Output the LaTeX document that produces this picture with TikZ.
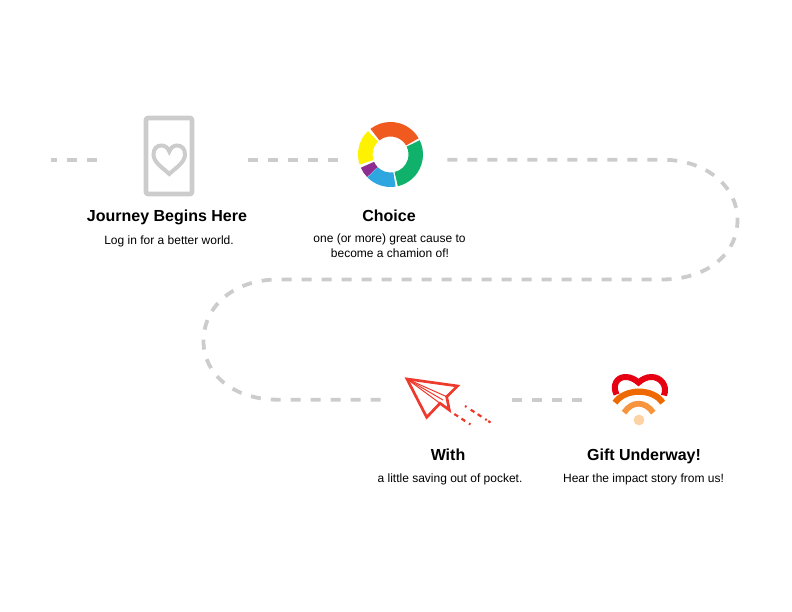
\documentclass[tikz,border=0pt]{standalone}
\usepackage{fontspec}
\setmainfont{Liberation Sans}
\definecolor{pathgray}{HTML}{CCCCCC}
\definecolor{iconorange}{HTML}{F15A1F}
\definecolor{icongreen}{HTML}{10B26B}
\definecolor{iconblue}{HTML}{2EA6E0}
\definecolor{iconpurple}{HTML}{8E2D91}
\definecolor{iconyellow}{HTML}{FFF200}
\definecolor{planered}{HTML}{EE3A2C}
\definecolor{heartred}{HTML}{E60012}
\definecolor{wifiA}{HTML}{EE6A00}
\definecolor{wifiB}{HTML}{F7953F}
\definecolor{wifiC}{HTML}{FDD3A5}
\tikzset{
  x=1pt,y=1pt,
  trail/.style={draw=pathgray,line width=3.8pt,dash pattern=on 10pt off 10pt},
  title/.style={anchor=base,font=\fontsize{16}{18}\selectfont\bfseries,inner sep=0pt},
  sub/.style={anchor=base,font=\fontsize{12}{15}\selectfont,inner sep=0pt,align=center},
  cardline/.style={draw=pathgray,line width=4.6pt},
  plane/.style={draw=planered,line join=miter},
}
\newcommand{\seg}[3]{\fill[#1] (#2:32.5) arc[start angle=#2,end angle=#3,radius=32.5] -- (#3:18) arc[start angle=#3,end angle=#2,radius=18] -- cycle;}
\begin{document}
\begin{tikzpicture}
\useasboundingbox (0,0) rectangle (792,612);
% trail
\coordinate (t1a) at (51,452.3);
\coordinate (t1b) at (97,452.3);
\coordinate (t2a) at (247.5,452.3);
\coordinate (t2b) at (337.5,452.3);
\coordinate (t3a) at (447.3,452.3);
\coordinate (t3b) at (662,452.3);
\coordinate (t3c) at (737.5,392);
\coordinate (t3d) at (662,332.5);
\coordinate (t3e) at (278,332.5);
\coordinate (t3f) at (203.5,271);
\coordinate (t3g) at (278,212.3);
\coordinate (t3h) at (383,212.3);
\coordinate (t4a) at (512.3,212.3);
\coordinate (t4b) at (582.3,212.3);
\draw[trail,dash phase=4pt] (t1a) -- (t1b);
\draw[trail] (t2a) -- (t2b);
\draw[trail] (t3a) -- (t3b)
  .. controls (707,452.3) and (737.5,425) .. (t3c)
  .. controls (737.5,358) and (707,332.5) .. (t3d)
  -- (t3e)
  .. controls (233,332.5) and (203.5,305) .. (t3f)
  .. controls (203.5,238) and (233,212.3) .. (t3g)
  -- (t3h);
\draw[trail] (t4a) -- (t4b);
% card
\draw[cardline,rounded corners=2pt] (146,418) rectangle (192,494);
\draw[draw=pathgray,line width=4pt,line join=miter]
  (169.3,438) .. controls (163,444) and (153.5,449.5) .. (153.5,457.5)
  .. controls (153.5,463.5) and (157,466.5) .. (161.5,466.5)
  .. controls (165,466.5) and (167.8,464.5) .. (169.3,460.5)
  .. controls (170.8,464.5) and (173.5,466.5) .. (177,466.5)
  .. controls (181.5,466.5) and (185,463.5) .. (185,457.5)
  .. controls (185,449.5) and (175.5,444) .. (169.3,438) -- cycle;
% donut
\begin{scope}[shift={(390.5,457.5)}]
\seg{iconorange}{30}{128}
\seg{icongreen}{26}{-77}
\seg{iconblue}{-81}{-135}
\seg{iconpurple}{204}{224}
\seg{iconyellow}{134}{198}
\end{scope}
% plane
\coordinate (pTip) at (407,233);
\coordinate (pRight) at (457.5,226);
\coordinate (pIn) at (446.7,215.3);
\coordinate (pTail) at (449.3,202);
\coordinate (pNotch) at (440,208.7);
\coordinate (pBottom) at (426.7,194.7);
\draw[plane,line width=2.7pt] (pTip) -- (pRight) -- (pIn) -- (pTail) -- (pNotch) -- (pBottom) -- cycle;
\draw[plane,line width=1pt] (pTip) -- (pIn);
\draw[plane,line width=1pt] (pTip) -- (pNotch);
\draw[plane,line width=1pt] (pTip) -- (443,212);
\draw[plane,line width=2.2pt,dash pattern=on 1.8pt off 5pt on 4.5pt off 3.8pt on 4.5pt off 4.5pt on 1.8pt] (465,206) -- (490.5,189.5);
\draw[plane,line width=2.2pt,dash pattern=on 4.5pt off 4pt on 4.5pt off 4.5pt on 1.8pt] (454.3,198) -- (472.5,186.2);
% heart
\draw[heartred,line width=6pt]
  (616.5,217.5) .. controls (612,227) and (617,235) .. (625.5,235)
  .. controls (631,235) and (635,232.5) .. (638.5,229.5)
  .. controls (642,232.5) and (646,235) .. (651.5,235)
  .. controls (660,235) and (668,227) .. (664,216.5);
\draw[wifiA,line width=6.2pt] (615,209.3) .. controls (625,224) and (653,224) .. (662.7,209.3);
\draw[wifiB,line width=5.8pt] (624,199.3) .. controls (632,211.3) and (645,211.3) .. (653.3,199.3);
\fill[wifiC] (639,192) circle[radius=5.4];
% labels
\node[title] (lJourney) at (167,390.5) {Journey Begins Here};
\node[sub] (sJourney) at (169,367.8) {Log in for a better world.};
\node[title] (lChoice) at (389,390.5) {Choice};
\node[sub] (sChoice1) at (389.5,369.5) {one (or more) great cause to};
\node[sub] (sChoice2) at (390,354.5) {become a chamion of!};
\node[title] (lWith) at (448,151.5) {With};
\node[sub] (sWith) at (450,129.3) {a little saving out of pocket.};
\node[title] (lGift) at (644,151.5) {Gift Underway!};
\node[sub] (sGift) at (643.5,129.3) {Hear the impact story from us!};
\end{tikzpicture}
\end{document}
